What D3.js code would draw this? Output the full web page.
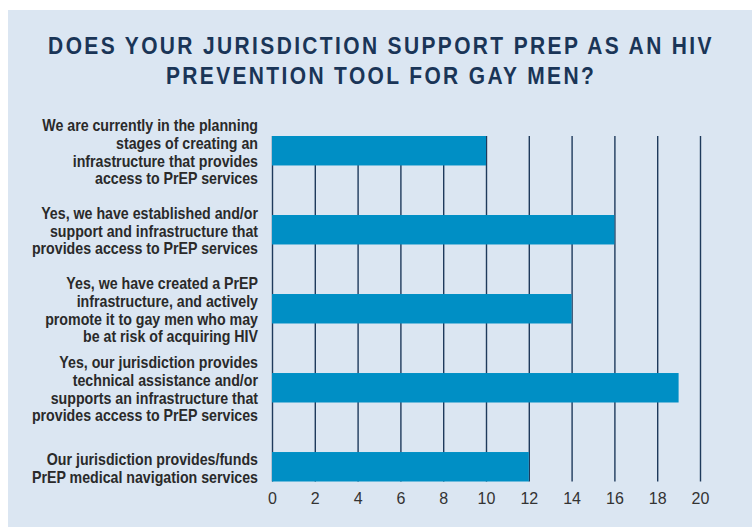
<!DOCTYPE html>
<html>
<head>
<meta charset="utf-8">
<script src="https://cdn.jsdelivr.net/npm/d3@7"></script>
<style>
  html, body { margin:0; padding:0; background:#ffffff; }
  #chart svg { display:block; }
</style>
</head>
<body>
<div id="chart"></div>
<script>
var titleLines = ["DOES YOUR JURISDICTION SUPPORT PREP AS AN HIV", "PREVENTION TOOL FOR GAY MEN?"];
var categories = [
  ["We are currently in the planning", "stages of creating an", "infrastructure that provides", "access to PrEP services"],
  ["Yes, we have established and/or", "support and infrastructure that", "provides access to PrEP services"],
  ["Yes, we have created a PrEP", "infrastructure, and actively", "promote it to gay men who may", "be at risk of acquiring HIV"],
  ["Yes, our jurisdiction provides", "technical assistance and/or", "supports an infrastructure that", "provides access to PrEP services"],
  ["Our jurisdiction provides/funds", "PrEP medical navigation services"]
];
var values = [10, 16, 14, 19, 12];
var xTicks = [0, 2, 4, 6, 8, 10, 12, 14, 16, 18, 20];

(function () {
  'use strict'
  drawBarChart("chart");
})()

function drawBarChart(divIdStr){
  var W = 752, H = 527;
  var margin = {top: 136, left: 272};
  var width = 700 - margin.left;
  var height = 481.5 - margin.top;
  var lineH = 17.7;
  var labelRight = 258;
  var labelWidth = 216;   // width of the first label line in the original
  var titleWidth = 666;
  var fontSans = "'Liberation Sans', Arial, sans-serif";

  var svg = d3.select("#"+divIdStr).append("svg")
    .attr("width", W)
    .attr("height", H);

  // panel
  svg.append("rect")
    .attr("x", 8).attr("y", 10)
    .attr("width", W - 8).attr("height", H - 10)
    .attr("fill", "#dbe6f2");

  // title (condensed look: squeeze horizontally)
  var titleG = svg.append("g");
  var titleTxt = titleG.selectAll("text")
    .data(titleLines)
    .enter().append("text")
    .attr("x", 0)
    .attr("y", function(d, i){ return 54 + i * 30; })
    .attr("text-anchor", "middle")
    .attr("font-family", fontSans)
    .attr("font-weight", "bold")
    .attr("font-size", "23px")
    .attr("letter-spacing", "2.6px")
    .attr("fill", "#1a3557")
    .text(function(d){ return d; });
  var tW = titleTxt.node().getComputedTextLength();
  titleG.attr("transform", "translate(381,0) scale(" + (titleWidth / tW) + ",1)");

  var idx = values.map(function(d, i){ return i; });
  var x = d3.scaleLinear().domain([0, 20]).range([0, width]);
  var y = d3.scaleBand().domain(idx).range([0, height]).paddingInner(0.627).paddingOuter(0);

  var g = svg.append("g")
    .attr("transform", "translate(" + margin.left + "," + margin.top + ")");

  // vertical grid lines
  g.append("g")
    .attr("class", "gridLines")
    .call(d3.axisBottom(x).tickValues(xTicks).tickSize(height).tickFormat(""))
    .call(function(s){
      s.select(".domain").remove();
      s.selectAll(".tick line").attr("stroke", "#1e3a5c").attr("stroke-width", 1.4);
    });

  // bars
  g.selectAll(".bar")
    .data(values)
    .enter().append("rect")
    .attr("class", "bar")
    .attr("x", x(0))
    .attr("y", function(d, i){ return y(i); })
    .attr("width", function(d){ return x(d) - x(0); })
    .attr("height", y.bandwidth())
    .attr("fill", "#008fc5");

  // x axis labels
  g.append("g")
    .attr("class", "xAxis")
    .attr("transform", "translate(0," + height + ")")
    .call(d3.axisBottom(x).tickValues(xTicks).tickSize(0).tickPadding(11).tickFormat(d3.format("d")))
    .call(function(s){
      s.select(".domain").remove();
      s.selectAll(".tick text")
        .attr("font-family", fontSans)
        .attr("font-size", "16px")
        .attr("fill", "#333333")
        .attr("dy", "0.71em");
    });

  // category labels, right aligned, squeezed to a condensed width
  var lg = svg.append("g");
  categories.forEach(function(lines, i){
    var cy = margin.top + y(i) + y.bandwidth() / 2;
    var n = lines.length;
    lg.append("text")
      .attr("class", "catLabel")
      .attr("text-anchor", "end")
      .attr("font-family", fontSans)
      .attr("font-weight", "bold")
      .attr("font-size", "16.5px")
      .attr("fill", "#2a2a2a")
      .selectAll("tspan")
      .data(lines)
      .enter().append("tspan")
      .attr("x", 0)
      .attr("y", function(d, j){ return cy + (j - (n - 1) / 2) * lineH + 7; })
      .text(function(d){ return d; });
  });
  var firstLine = lg.select("tspan").node().getComputedTextLength();
  lg.attr("transform", "translate(" + labelRight + ",0) scale(" + (labelWidth / firstLine) + ",1)");
}
</script>
</body>
</html>
